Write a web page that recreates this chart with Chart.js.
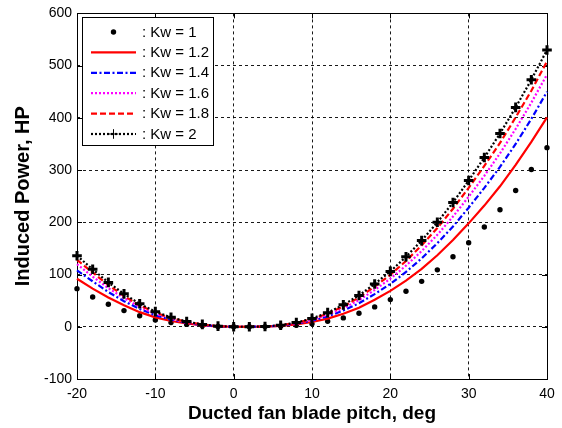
<!DOCTYPE html>
<html>
<head>
<meta charset="utf-8">
<script src="https://cdn.jsdelivr.net/npm/chart.js@4.4.1/dist/chart.umd.min.js"></script>
<style>
  html, body { margin: 0; padding: 0; background: #fff; }
  canvas { display: block; }
</style>
</head>
<body>
<canvas id="chart" width="562" height="428"></canvas>
<script>
// Blade pitch, deg
const pitch = [-20,-18,-16,-14,-12,-10,-8,-6,-4,-2,0,2,4,6,8,10,12,14,16,18,20,22,24,26,28,30,32,34,36,38,40];

// Induced power, HP, for each Kw value
const kw1  = [73,57,43,31,21,13,8,4.5,2,0.5,0,0,0.3,1.2,3,6,10.5,17,26,38,52,68,87,109,134,161,191,224,261,301,343];
const kw12 = [92,73,56,41,28,18,11,6.2,2.8,0.7,0,0,0.4,1.8,4.6,9.1,15.6,24.8,36.5,51.6,68.7,88.5,111,137,166,198,232,269,310,354,401];
const kw14 = [108,87,66.5,49,34,22,13.6,7.6,3.4,0.9,0,0,0.4,2.2,5.8,11.6,19.7,31,45,62.6,82,105,131,160,192,228,266,306,350,398,450];
const kw16 = [120,96,74,55,38,25,15.4,8.6,3.9,1,0,0,0.45,2.5,6.7,13.4,22.7,35.5,51,70.6,92,117,145,176,211,249,289,332,379,429,483];
const kw18 = [128,104,80,59,41,27,16.8,9.3,4.2,1.1,0,0,0.5,2.8,7.4,14.8,25,39,56,77,99.5,126,156,189,226,266,308,352,401,452,508];
const kw2  = [136,110,85,63,44,29,18,10,4.5,1.2,0,0,0.5,3,8,16,27,42,60,82,106,134,165,200,238,280,324,370,420,473,530];

const kwNames = ['1', '1.2', '1.4', '1.6', '1.8', '2'];

// Axis ticks
const xTicks = [-20, -10, 0, 10, 20, 30, 40];
const yTicks = [-100, 0, 100, 200, 300, 400, 500, 600];

const xTitle = 'Ducted fan blade pitch, deg';
const yTitle = 'Induced Power, HP';

const FONT = '"Liberation Sans", Arial, Helvetica, sans-serif';
Chart.defaults.font.family = FONT;
Chart.defaults.color = '#000';

const toXY = vals => pitch.map((p, i) => ({ x: p, y: vals[i] }));

const series = [
  { vals: kw1,  color: '#000000', line: false, dash: [],               point: 'circle', r: 2.7, pw: 0 },
  { vals: kw12, color: '#ff0000', line: true,  dash: [],               point: false },
  { vals: kw14, color: '#0000ff', line: true,  dash: [6, 2.5, 2, 2.5], point: false },
  { vals: kw16, color: '#ff00ff', line: true,  dash: [2, 2],           point: false },
  { vals: kw18, color: '#ff0000', line: true,  dash: [6, 3],           point: false },
  { vals: kw2,  color: '#000000', line: true,  dash: [2, 2],           point: 'cross', r: 4.8, pw: 3 }
];

const datasets = series.map((s, i) => ({
  label: ': Kw = ' + kwNames[i],
  data: toXY(s.vals),
  showLine: s.line,
  borderColor: s.color,
  backgroundColor: s.color,
  borderWidth: 2.2,
  borderDash: s.dash,
  tension: 0,
  pointStyle: s.point || 'circle',
  pointRadius: s.point ? s.r : 0,
  pointBorderWidth: s.point ? s.pw : 0,
  pointBorderColor: s.color,
  pointBackgroundColor: s.color,
  order: series.length - i,
  clip: false
}));

// Box around the plot, inward tick marks and the in-plot legend
const framePlugin = {
  id: 'frameLegend',
  beforeDatasetsDraw(chart) {
    const { ctx, chartArea: a, scales: { x, y } } = chart;
    ctx.save();
    ctx.strokeStyle = '#000';
    ctx.lineWidth = 1;
    ctx.setLineDash([]);
    ctx.beginPath();
    const L = 5;
    xTicks.forEach(v => {
      const px = Math.round(x.getPixelForValue(v)) + 0.5;
      ctx.moveTo(px, a.bottom); ctx.lineTo(px, a.bottom - L);
      ctx.moveTo(px, a.top);    ctx.lineTo(px, a.top + L);
    });
    yTicks.forEach(v => {
      const py = Math.round(y.getPixelForValue(v)) + 0.5;
      ctx.moveTo(a.left, py);  ctx.lineTo(a.left + L, py);
      ctx.moveTo(a.right, py); ctx.lineTo(a.right - L, py);
    });
    ctx.stroke();
    ctx.strokeRect(Math.round(a.left) + 0.5, Math.round(a.top) + 0.5,
                   Math.round(a.right - a.left), Math.round(a.bottom - a.top));
    ctx.restore();
  },
  afterDatasetsDraw(chart) {
    const { ctx } = chart;
    const box = { x: 82.5, y: 17.5, w: 131, h: 128 };
    ctx.save();
    ctx.fillStyle = '#fff';
    ctx.fillRect(box.x, box.y, box.w, box.h);
    ctx.strokeStyle = '#000';
    ctx.lineWidth = 1;
    ctx.setLineDash([]);
    ctx.strokeRect(box.x, box.y, box.w, box.h);

    const x0 = 91, x1 = 136, xm = (x0 + x1) / 2;
    ctx.font = '15px ' + FONT;
    ctx.textBaseline = 'middle';
    ctx.textAlign = 'left';
    chart.data.datasets.forEach((ds, i) => {
      const yy = 32 + i * 20.4;
      if (ds.showLine) {
        ctx.save();
        ctx.strokeStyle = ds.borderColor;
        ctx.lineWidth = ds.borderWidth;
        ctx.setLineDash(ds.borderDash);
        ctx.beginPath();
        ctx.moveTo(x0, yy); ctx.lineTo(x1, yy);
        ctx.stroke();
        ctx.restore();
      }
      if (ds.pointRadius > 0) {
        ctx.save();
        ctx.fillStyle = ds.pointBackgroundColor;
        ctx.strokeStyle = ds.pointBorderColor;
        Chart.helpers.drawPoint(ctx, {
          pointStyle: ds.pointStyle,
          radius: ds.pointRadius,
          borderWidth: ds.pointBorderWidth,
          rotation: 0
        }, xm, yy);
        ctx.restore();
      }
      ctx.fillStyle = '#000';
      ctx.fillText(ds.label, 142, yy + 0.5);
    });
    ctx.restore();
  }
};

new Chart(document.getElementById('chart'), {
  type: 'scatter',
  data: { datasets },
  options: {
    responsive: false,
    animation: false,
    events: [],
    layout: { padding: { left: 0, right: 15, top: 9, bottom: 0 } },
    plugins: { legend: { display: false }, tooltip: { enabled: false } },
    scales: {
      x: {
        type: 'linear',
        min: -20, max: 40,
        afterBuildTicks: s => { s.ticks = xTicks.map(v => ({ value: v })); },
        afterFit: s => { s.height = 49; },
        grid: { color: 'rgba(0,0,0,0.9)', lineWidth: 1, drawTicks: false },
        border: { display: false, dash: [3, 3] },
        ticks: { font: { size: 14 }, padding: 7, maxRotation: 0, color: '#000' },
        title: {
          display: true, text: xTitle, color: '#000',
          font: { size: 19, weight: 'bold' },
          padding: { top: 0, bottom: 2.7 }
        }
      },
      y: {
        type: 'linear',
        min: -100, max: 600,
        afterBuildTicks: s => { s.ticks = yTicks.map(v => ({ value: v })); },
        afterFit: s => { s.width = 77; },
        grid: { color: 'rgba(0,0,0,0.9)', lineWidth: 1, drawTicks: false },
        border: { display: false, dash: [3, 3] },
        ticks: { font: { size: 14 }, padding: 5, color: '#000' },
        title: {
          display: true, text: yTitle, color: '#000',
          font: { size: 20, weight: 'bold' },
          padding: { top: 11.5, bottom: 0 }
        }
      }
    }
  },
  plugins: [framePlugin]
});
</script>
</body>
</html>
